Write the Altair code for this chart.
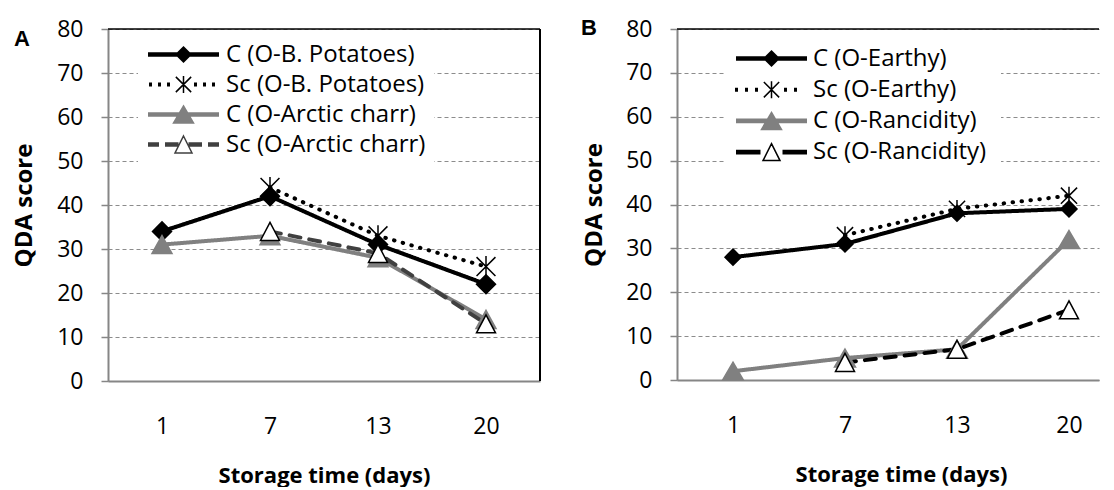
import altair as alt
import pandas as pd

# ---------------- data ----------------
days = ["1", "7", "13", "20"]

series_a = ["C (O-B. Potatoes)", "Sc (O-B. Potatoes)", "C (O-Arctic charr)", "Sc (O-Arctic charr)"]
c_bpot = [34, 42, 31, 22]
sc_bpot = [None, 44, 33, 26]
c_arctic = [31, 33, 28, 14]
sc_arctic = [None, 34, 29, 13]

series_b = ["C (O-Earthy)", "Sc (O-Earthy)", "C (O-Rancidity)", "Sc  (O-Rancidity)"]
c_earthy = [28, 31, 38, 39]
sc_earthy = [None, 33, 39, 42]
c_ranc = [2, 5, 7, 32]
sc_ranc = [None, 4, 7, 16]

y_ticks = [0, 10, 20, 30, 40, 50, 60, 70, 80]


def long_df(names, values):
    rows = []
    for name, vals in zip(names, values):
        for d, v in zip(days, vals):
            if v is not None:
                rows.append({"day": d, "score": v, "series": name})
    return pd.DataFrame(rows)


df_a = long_df(series_a, [c_bpot, sc_bpot, c_arctic, sc_arctic])
df_b = long_df(series_b, [c_earthy, sc_earthy, c_ranc, sc_ranc])

# ---------------- marker / legend symbol shapes ----------------
def poly(verts, cx=0.0, f=1.0):
    return "M" + "L".join(f"{cx + vx * f:.3f},{vy * f:.3f}" for vx, vy in verts) + "Z"


def solid_poly(verts, cx, step=0.08):
    r = max(max(abs(vx), abs(vy)) for vx, vy in verts)
    out, f = "", 1.0
    while f > 0.02:
        out += poly(verts, cx, f)
        f -= step / r
    return out


THICK = (-0.16, -0.05, 0.05, 0.16)


def seg(x0, x1, offs=THICK):
    return "".join(f"M{x0:.3f},{o:.3f}L{x1:.3f},{o:.3f}" for o in offs)


def dots(xs):
    return "".join(seg(x - 0.15, x + 0.15, (-0.12, 0.0, 0.12)) for x in xs)


def asterisk(cx, r):
    a = r * 0.9
    return (f"M{cx - a:.3f},{-a:.3f}L{cx + a:.3f},{a:.3f}"
            f"M{cx - a:.3f},{a:.3f}L{cx + a:.3f},{-a:.3f}"
            f"M{cx:.3f},{-r:.3f}L{cx:.3f},{r:.3f}")


X0, X1, MC = -1.0, 6.1, 2.55
DIA_L = [(0, -0.75), (0.75, 0), (0, 0.75), (-0.75, 0)]
TRI_L = [(0, -0.85), (1.0, 0.85), (-1.0, 0.85)]
OTRI_L = [(0, -0.85), (0.85, 0.85), (-0.85, 0.85)]

legend_paths_a = [
    seg(X0, X1) + solid_poly(DIA_L, MC),
    dots([-0.75, 0.15, 1.05, 3.75, 4.65, 5.55]) + asterisk(MC, 0.85),
    seg(X0, X1) + solid_poly(TRI_L, MC),
    seg(X0, 0.1) + seg(0.7, MC - 0.5) + seg(MC + 0.5, 4.4) + seg(5.0, X1) + poly(OTRI_L, MC),
]
legend_paths_b = [
    seg(X0, X1) + solid_poly(DIA_L, MC),
    dots([-0.95, 0.05, 1.05, 3.95, 4.95]) + asterisk(MC, 0.85),
    seg(X0, X1) + solid_poly(TRI_L, MC),
    seg(X0, MC - 1.1) + seg(MC + 1.1, X1) + poly(OTRI_L, MC),
]

markers_a = [
    poly([(0, -0.95), (0.95, 0), (0, 0.95), (-0.95, 0)]),
    asterisk(0, 1.05),
    poly([(0, -0.9), (1.0, 0.9), (-1.0, 0.9)]),
    poly([(0, -0.9), (0.95, 0.9), (-0.95, 0.9)]),
]
markers_b = [
    poly([(0, -0.8), (0.8, 0), (0, 0.8), (-0.8, 0)]),
    asterisk(0, 0.9),
    poly([(0, -0.9), (1.05, 0.9), (-1.05, 0.9)]),
    poly([(0, -0.9), (0.95, 0.9), (-0.95, 0.9)]),
]

FONT = "Open Sans"
AXIS_GRAY = "#868686"


def panel(df, names, letter, width, height, xscale, xtitle_x, line_colors, dashes, fills, strokes,
          markers, legend_paths, legend_colors, legend_x, legend_y, row_pad, label_offset,
          ytitle_x, title_dx, title_dy, right_border):
    x = alt.X("day:O", sort=days, scale=xscale,
              axis=alt.Axis(title="Storage time (days)", labelAngle=0, ticks=False, tickSize=0,
                            domainColor=AXIS_GRAY, domainWidth=2, grid=False,
                            labelFont=FONT, labelFontSize=23, labelColor="black", labelPadding=34,
                            titleFont=FONT, titleFontSize=22, titleFontWeight="bold", titleColor="black",
                            titleX=xtitle_x, titleY=94,
                            titleBaseline="middle", titleAlign="center"))
    y = alt.Y("score:Q", scale=alt.Scale(domain=[0, 80], nice=False),
              axis=alt.Axis(values=y_ticks, title="QDA score", grid=True, gridColor="#8c8c8c",
                            gridDash=[4, 3], gridWidth=1.2, domainColor=AXIS_GRAY, domainWidth=2,
                            tickColor=AXIS_GRAY, tickSize=7, tickWidth=1.5,
                            labelFont=FONT, labelFontSize=23, labelColor="black", labelPadding=18,
                            titleFont=FONT, titleFontSize=24, titleFontWeight="bold", titleColor="black",
                            titleX=ytitle_x, titleY=height / 2, titleAngle=270,
                            titleBaseline="middle", titleAlign="center"))
    base = alt.Chart(df)
    lines = base.mark_line(strokeWidth=4, strokeCap="round", strokeJoin="round").encode(
        x=x, y=y,
        color=alt.Color("series:N", scale=alt.Scale(domain=names, range=line_colors), legend=None),
        strokeDash=alt.StrokeDash("series:N", scale=alt.Scale(domain=names, range=dashes), legend=None),
    )
    points = base.mark_point(size=400, strokeWidth=1.5, opacity=1, filled=True).encode(
        x=x, y=y,
        shape=alt.Shape("series:N", scale=alt.Scale(domain=names, range=markers), legend=None),
        fill=alt.Fill("series:N", scale=alt.Scale(domain=names, range=fills), legend=None),
        stroke=alt.Stroke("series:N", scale=alt.Scale(domain=names, range=strokes), legend=None),
    )
    leg = alt.Legend(title=None, orient="none", legendX=legend_x, legendY=legend_y,
                     direction="vertical", symbolSize=400, symbolStrokeWidth=1.5,
                     labelFont=FONT, labelFontSize=24, labelColor="black", labelOffset=label_offset,
                     labelLimit=500, labelBaseline="middle", rowPadding=row_pad, padding=8,
                     fillColor="white")
    legend_layer = base.mark_point(size=0, strokeWidth=1.5, opacity=1, filled=False).encode(
        x=x, y=y,
        shape=alt.Shape("series:N", scale=alt.Scale(domain=names, range=legend_paths), legend=leg),
        color=alt.Color("series:N", scale=alt.Scale(domain=names, range=legend_colors), legend=leg),
    )
    frame = alt.Chart(pd.DataFrame({"frame": [0]}))
    top_rule = frame.mark_rule(color="black", strokeWidth=1.5).encode(y=alt.value(0))
    layers = [lines, points, legend_layer, top_rule]
    if right_border:
        layers.append(frame.mark_rule(color="black", strokeWidth=2).encode(
            x=alt.value(width), y=alt.value(0), y2=alt.value(height)))
    return alt.layer(*layers).resolve_scale(color="independent", shape="independent").properties(
        width=width, height=height,
        title=alt.TitleParams(letter, anchor="start", frame="bounds", font="Liberation Sans",
                              fontSize=22, fontWeight="bold", color="black", offset=0,
                              dx=title_dx, dy=title_dy),
    )


panel_a = panel(
    df_a, series_a, "A", 432, 352,
    alt.Scale(type="point", padding=0.5), 216,
    ["#000000", "#000000", "#808080", "#404040"],
    [[1, 0], [0.5, 8.5], [1, 0], [11, 9]],
    ["#000000", "#000000", "#808080", "#ffffff"],
    ["#000000", "#000000", "#808080", "#000000"],
    markers_a, legend_paths_a,
    ["#000000", "#000000", "#808080", "#404040"],
    30, 5.5, 6, 56, -84, 2, 33, True,
)

panel_b = panel(
    df_b, series_b, "B", 422, 351,
    alt.Scale(type="point", padding=0.38393, align=0.65116), 224,
    ["#000000", "#000000", "#808080", "#000000"],
    [[1, 0], [0.5, 8.5], [1, 0], [12, 10]],
    ["#595959", "#000000", "#808080", "#ffffff"],
    ["#000000", "#000000", "#808080", "#000000"],
    markers_b, legend_paths_b,
    ["#000000", "#000000", "#808080", "#000000"],
    49, 9.5, 7.2, 55, -83, -1, 22, False,
)

chart = alt.hconcat(panel_a, panel_b, spacing=137, bounds="flush").properties(
    padding={"left": 3, "top": 8, "right": 0, "bottom": 0},
    background="white",
).configure_view(stroke="transparent")

chart.save("out.html", embed_options={"renderer": "svg", "actions": False})
